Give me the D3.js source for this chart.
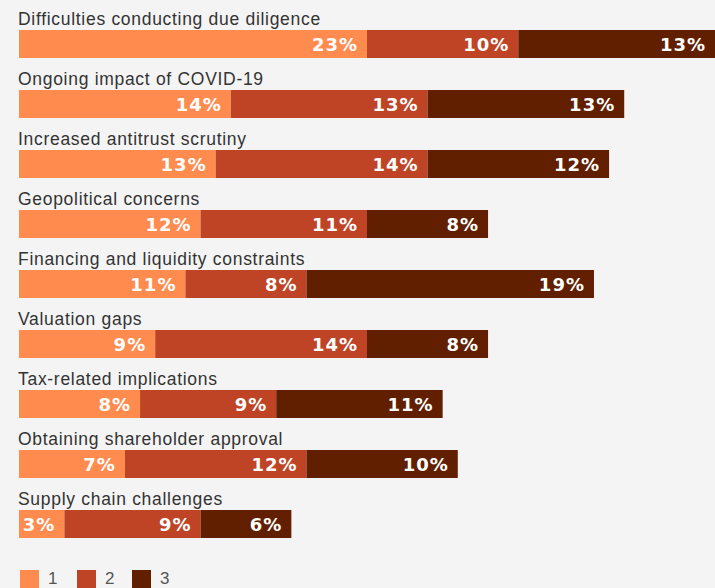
<!DOCTYPE html>
<html>
<head>
<meta charset="utf-8">
<script src="https://cdn.jsdelivr.net/npm/d3@7"></script>
<style>
  html, body { margin: 0; padding: 0; background: #f4f4f4; }
  svg { display: block; }
</style>
</head>
<body>
<div id="chart"></div>
<script>
// Challenges ranked 1st, 2nd and 3rd, share of respondents (%)
const categories = [
  "Difficulties conducting due diligence",
  "Ongoing impact of COVID-19",
  "Increased antitrust scrutiny",
  "Geopolitical concerns",
  "Financing and liquidity constraints",
  "Valuation gaps",
  "Tax-related implications",
  "Obtaining shareholder approval",
  "Supply chain challenges"
];
const rank1 = [23, 14, 13, 12, 11, 9, 8, 7, 3];
const rank2 = [10, 13, 14, 11, 8, 14, 9, 12, 9];
const rank3 = [13, 13, 12, 8, 19, 8, 11, 10, 6];
const seriesKeys = ["1", "2", "3"];
const colors = ["#ff8b4f", "#bf4425", "#611f00"];

const W = 715, H = 588;
const svg = d3.select("#chart").append("svg")
  .attr("width", W).attr("height", H);

svg.append("rect").attr("width", W).attr("height", H).attr("fill", "#f4f4f4");

const rows = categories.map((c, i) => ({ cat: c, "1": rank1[i], "2": rank2[i], "3": rank3[i] }));
const stacked = d3.stack().keys(seriesKeys)(rows);

const x = d3.scaleLinear().domain([0, 46]).range([19, 715]);
const y = d3.scaleBand().domain(categories).range([0, 540]);
const color = d3.scaleOrdinal().domain(seriesKeys).range(colors);

const barOffset = 30, barH = 28;

// category titles above each bar
svg.append("g").selectAll("text")
  .data(categories)
  .join("text")
  .attr("x", 18)
  .attr("y", d => y(d) + 25)
  .attr("font-family", "Liberation Sans, Arial, sans-serif")
  .attr("font-size", 17.5)
  .attr("letter-spacing", 0.7)
  .attr("fill", "#333333")
  .text(d => d);

// stacked segments
const layers = svg.append("g").selectAll("g")
  .data(stacked)
  .join("g")
  .attr("fill", d => color(d.key));

layers.selectAll("rect")
  .data(d => d.map(s => ({ s, key: d.key })))
  .join("rect")
  .attr("x", d => x(d.s[0]))
  .attr("y", d => y(d.s.data.cat) + barOffset)
  .attr("width", d => x(d.s[1]) - x(d.s[0]))
  .attr("height", barH);

// value labels, right-aligned inside each segment
layers.selectAll("text")
  .data(d => d.map(s => ({ s, key: d.key })))
  .join("text")
  .attr("x", d => x(d.s[1]) - 9)
  .attr("y", d => y(d.s.data.cat) + barOffset + barH / 2 + 6.5)
  .attr("text-anchor", "end")
  .attr("font-family", "DejaVu Sans, sans-serif")
  .attr("font-weight", "bold")
  .attr("font-size", 18)
  .attr("letter-spacing", 1)
  .attr("fill", "#ffffff")
  .text(d => (d.s[1] - d.s[0]) + "%");

// legend
const legendX = [20, 77, 132];
const legend = svg.append("g").selectAll("g")
  .data(seriesKeys)
  .join("g")
  .attr("transform", (d, i) => `translate(${legendX[i]},570)`);
legend.append("rect")
  .attr("width", 19).attr("height", 18)
  .attr("fill", d => color(d));
legend.append("text")
  .attr("x", 28).attr("y", 14)
  .attr("font-family", "Liberation Sans, Arial, sans-serif")
  .attr("font-size", 17)
  .attr("fill", "#555555")
  .text(d => d);
</script>
</body>
</html>
